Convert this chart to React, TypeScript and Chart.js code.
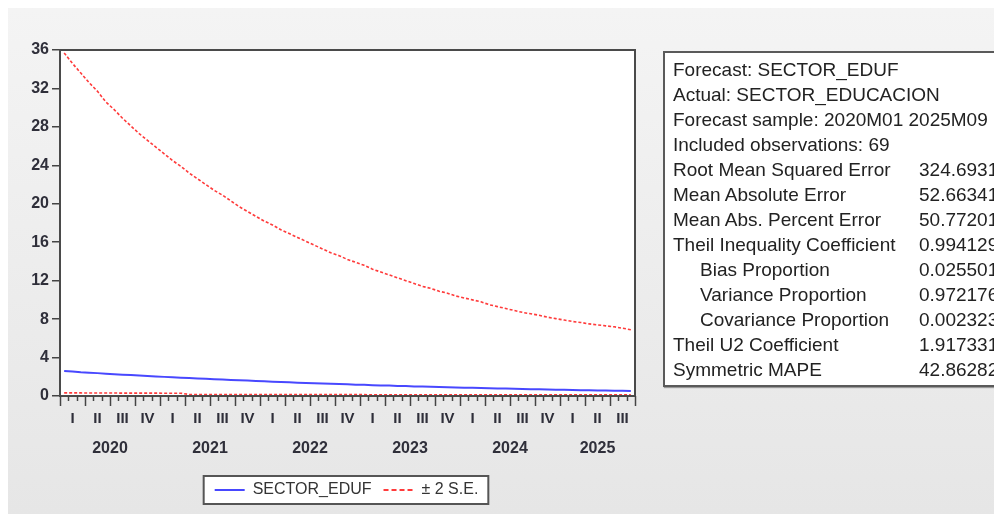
import React, { useEffect, useRef } from 'react';
import { Chart, registerables } from 'chart.js';

Chart.register(...registerables);

// ---- data ----
const firstYear = 2020;
const monthCount = 69; // 2020M01 .. 2025M09
const months: string[] = Array.from({ length: monthCount }, (_, i) =>
  `${firstYear + Math.floor(i / 12)}M${String((i % 12) + 1).padStart(2, '0')}`
);

const forecast = [
  2.60, 2.55, 2.48, 2.43, 2.38, 2.32, 2.27, 2.22, 2.18, 2.13, 2.08, 2.04,
  1.99, 1.95, 1.91, 1.87, 1.83, 1.79, 1.75, 1.71, 1.67, 1.63, 1.60, 1.56,
  1.53, 1.49, 1.46, 1.43, 1.39, 1.36, 1.33, 1.30, 1.27, 1.24, 1.21, 1.18,
  1.16, 1.13, 1.10, 1.08, 1.05, 1.03, 1.00, 0.98, 0.96, 0.93, 0.91, 0.89,
  0.87, 0.85, 0.83, 0.81, 0.79, 0.77, 0.75, 0.73, 0.71, 0.70, 0.68, 0.66,
  0.65, 0.63, 0.61, 0.60, 0.58, 0.57, 0.55, 0.54, 0.52,
];

const upperBand = [
  35.7, 34.6, 33.6, 32.6, 31.7, 30.6, 29.8, 28.9, 28.1, 27.3, 26.6, 25.9,
  25.2, 24.5, 23.9, 23.2, 22.6, 22.0, 21.4, 20.9, 20.3, 19.7, 19.2, 18.7,
  18.2, 17.8, 17.3, 16.9, 16.5, 16.1, 15.7, 15.3, 14.9, 14.6, 14.2, 13.9,
  13.6, 13.2, 12.9, 12.6, 12.3, 12.0, 11.7, 11.4, 11.2, 10.9, 10.7, 10.4,
  10.2, 10.0, 9.8, 9.5, 9.3, 9.1, 8.9, 8.7, 8.55, 8.4, 8.2, 8.05,
  7.9, 7.75, 7.65, 7.5, 7.4, 7.3, 7.2, 7.05, 6.9,
];

const lowerBand = [
  0.32, 0.32, 0.32, 0.31, 0.31, 0.31, 0.31, 0.30, 0.30, 0.30, 0.30, 0.30,
  0.29, 0.29, 0.29, 0.16, 0.16, 0.16, 0.16, 0.16, 0.15, 0.15, 0.15, 0.15,
  0.15, 0.15, 0.15, 0.15, 0.14, 0.14, 0.14, 0.14, 0.14, 0.14, 0.14, 0.14,
  0.14, 0.13, 0.13, 0.13, 0.13, 0.13, 0.13, 0.13, 0.13, 0.13, 0.13, 0.13,
  0.12, 0.12, 0.12, 0.12, 0.12, 0.12, 0.12, 0.12, 0.12, 0.12, 0.12, 0.12,
  0.12, 0.12, 0.12, 0.12, 0.12, 0.12, 0.12, 0.12, 0.12,
];

const yMin = 0;
const yMax = 36;
const yStep = 4;
const quarterNames = ['I', 'II', 'III', 'IV'];
const yearLabels = ['2020', '2021', '2022', '2023', '2024', '2025'];

const seriesNames = ['SECTOR_EDUF', '± 2 S.E.'];

const statLines: { label: string; value: string; indent?: boolean }[] = [
  { label: 'Forecast: SECTOR_EDUF', value: '' },
  { label: 'Actual: SECTOR_EDUCACION', value: '' },
  { label: 'Forecast sample: 2020M01 2025M09', value: '' },
  { label: 'Included observations: 69', value: '' },
  { label: 'Root Mean Squared Error', value: '324.6931' },
  { label: 'Mean Absolute Error', value: '52.66341' },
  { label: 'Mean Abs. Percent Error', value: '50.77201' },
  { label: 'Theil Inequality Coefficient', value: '0.994129' },
  { label: 'Bias Proportion', value: '0.025501', indent: true },
  { label: 'Variance Proportion', value: '0.972176', indent: true },
  { label: 'Covariance Proportion', value: '0.002323', indent: true },
  { label: 'Theil U2 Coefficient', value: '1.917331' },
  { label: 'Symmetric MAPE', value: '42.86282' },
];

const FONT = '"Liberation Sans", Arial, sans-serif';
const BLUE = '#4848ff';
const RED = '#ff3b3b';
const LABEL_COLOR = '#2f2f3a';

function legendRect(chart: any) {
  const hb = chart.legend && chart.legend.legendHitBoxes;
  if (!hb || !hb.length) return null;
  const l = hb[0].left - 11;
  const r = hb[hb.length - 1].left + hb[hb.length - 1].width + 10;
  const t = hb[0].top - 6;
  const b = hb[0].top + hb[0].height + 6;
  return { l, r, t, b };
}

const eviewsPlugin = {
  id: 'eviewsDecor',
  beforeDraw(chart: any) {
    const { ctx, chartArea: a } = chart;
    ctx.save();
    ctx.fillStyle = '#ffffff';
    ctx.fillRect(a.left, a.top, a.right - a.left, a.bottom - a.top);
    const lr = legendRect(chart);
    if (lr) ctx.fillRect(lr.l, lr.t, lr.r - lr.l, lr.b - lr.t);
    ctx.restore();
  },
  afterDraw(chart: any) {
    const { ctx, chartArea: a } = chart;
    const xs = chart.scales.x;
    ctx.save();
    // frame
    ctx.strokeStyle = '#4a4a4a';
    ctx.lineWidth = 2;
    ctx.strokeRect(a.left, a.top, a.right - a.left, a.bottom - a.top);
    // x ticks at month boundaries
    ctx.lineWidth = 1.5;
    ctx.strokeStyle = '#444';
    for (let k = 0; k <= monthCount; k++) {
      const px = Math.round(xs.getPixelForValue(k - 0.5)) + 0.5;
      const len = k % 3 === 0 ? 10 : 5;
      ctx.beginPath();
      ctx.moveTo(px, a.bottom);
      ctx.lineTo(px, a.bottom + len);
      ctx.stroke();
    }
    // quarter labels
    ctx.fillStyle = LABEL_COLOR;
    ctx.font = `bold 15px ${FONT}`;
    ctx.textAlign = 'center';
    ctx.textBaseline = 'middle';
    const nQ = Math.ceil(monthCount / 3);
    for (let q = 0; q < nQ; q++) {
      const px = xs.getPixelForValue(q * 3 + 1);
      ctx.fillText(quarterNames[q % 4], px, a.bottom + 23);
    }
    // year labels
    ctx.font = `bold 16px ${FONT}`;
    yearLabels.forEach((yl, i) => {
      const s = i * 12;
      const e = Math.min(s + 11, monthCount - 1);
      const px = xs.getPixelForValue((s + e) / 2);
      ctx.fillText(yl, px, a.bottom + 53);
    });
    // legend frame
    const lr = legendRect(chart);
    if (lr) {
      ctx.strokeStyle = '#555';
      ctx.lineWidth = 2;
      ctx.strokeRect(lr.l, lr.t, lr.r - lr.l, lr.b - lr.t);
    }
    ctx.restore();
  },
};

function ForecastChart() {
  const ref = useRef<HTMLCanvasElement>(null);
  useEffect(() => {
    if (!ref.current) return;
    const chart = new Chart(ref.current, {
      type: 'line',
      data: {
        labels: months,
        datasets: [
          {
            label: seriesNames[0],
            data: forecast,
            borderColor: BLUE,
            borderWidth: 2,
            pointRadius: 0,
            tension: 0,
          },
          {
            label: seriesNames[1],
            data: upperBand,
            borderColor: RED,
            borderWidth: 1.6,
            borderDash: [3, 2],
            pointRadius: 0,
            tension: 0,
          },
          {
            label: 'lower',
            data: lowerBand,
            borderColor: RED,
            borderWidth: 1.6,
            borderDash: [3, 2],
            pointRadius: 0,
            tension: 0,
          },
        ],
      },
      options: {
        animation: false,
        responsive: true,
        maintainAspectRatio: false,
        layout: { padding: { top: 42, right: 23, left: 0, bottom: 6 } },
        plugins: {
          tooltip: { enabled: false },
          legend: {
            position: 'bottom',
            labels: {
              filter: (item: any) => item.datasetIndex < 2,
              generateLabels: (chart: any) => {
                const items = Chart.defaults.plugins.legend.labels.generateLabels(chart);
                return items.map((it: any) =>
                  it.datasetIndex === 1 ? { ...it, lineDash: [5, 3], lineWidth: 2 } : { ...it, lineWidth: 2 }
                );
              },
              usePointStyle: true,
              pointStyle: 'line',
              pointStyleWidth: 30,
              padding: 12,
              color: '#333',
              font: { family: FONT, size: 16 },
            },
          },
        },
        scales: {
          x: {
            type: 'category',
            offset: true,
            grid: { display: false },
            border: { display: false },
            ticks: { display: false },
            afterFit: (s: any) => {
              s.height = 74;
            },
          },
          y: {
            min: yMin,
            max: yMax,
            ticks: {
              stepSize: yStep,
              color: LABEL_COLOR,
              padding: 3,
              font: { family: FONT, size: 16, weight: 'bold' },
            },
            grid: {
              display: true,
              drawOnChartArea: false,
              drawTicks: true,
              tickLength: 8,
              color: '#444',
              lineWidth: 1.5,
            },
            border: { display: false },
            afterFit: (s: any) => {
              s.width = 52;
            },
          },
          // empty spacer on the right so the legend centres like the original
          spacer: {
            position: 'right',
            min: 0,
            max: 1,
            grid: { display: false },
            border: { display: false },
            ticks: { display: false },
            afterFit: (s: any) => {
              s.width = 50;
            },
          },
        },
      },
      plugins: [eviewsPlugin],
    } as any);
    return () => chart.destroy();
  }, []);
  return <canvas ref={ref} />;
}

export default function App() {
  return (
    <div
      style={{
        position: 'relative',
        width: 994,
        height: 506,
        overflow: 'hidden',
        background: 'linear-gradient(#f4f4f4, #e6e6e6)',
        fontFamily: FONT,
      }}
    >
      <div style={{ position: 'absolute', left: 0, top: 0, width: 700, height: 506 }}>
        <ForecastChart />
      </div>
      <div
        style={{
          position: 'absolute',
          left: 655,
          top: 43,
          width: 360,
          height: 328,
          background: '#fff',
          border: '2px solid #5a5a5a',
          boxShadow: '1px 1px 1px #999',
          color: '#222',
          fontSize: 19,
          paddingTop: 4,
          boxSizing: 'content-box',
        }}
      >
        {statLines.map((s, i) => (
          <div key={i} style={{ position: 'relative', height: 25, lineHeight: '25px', whiteSpace: 'nowrap' }}>
            <span style={{ position: 'absolute', left: s.indent ? 35 : 8 }}>{s.label}</span>
            {s.value ? <span style={{ position: 'absolute', left: 254 }}>{s.value}</span> : null}
          </div>
        ))}
      </div>
    </div>
  );
}
